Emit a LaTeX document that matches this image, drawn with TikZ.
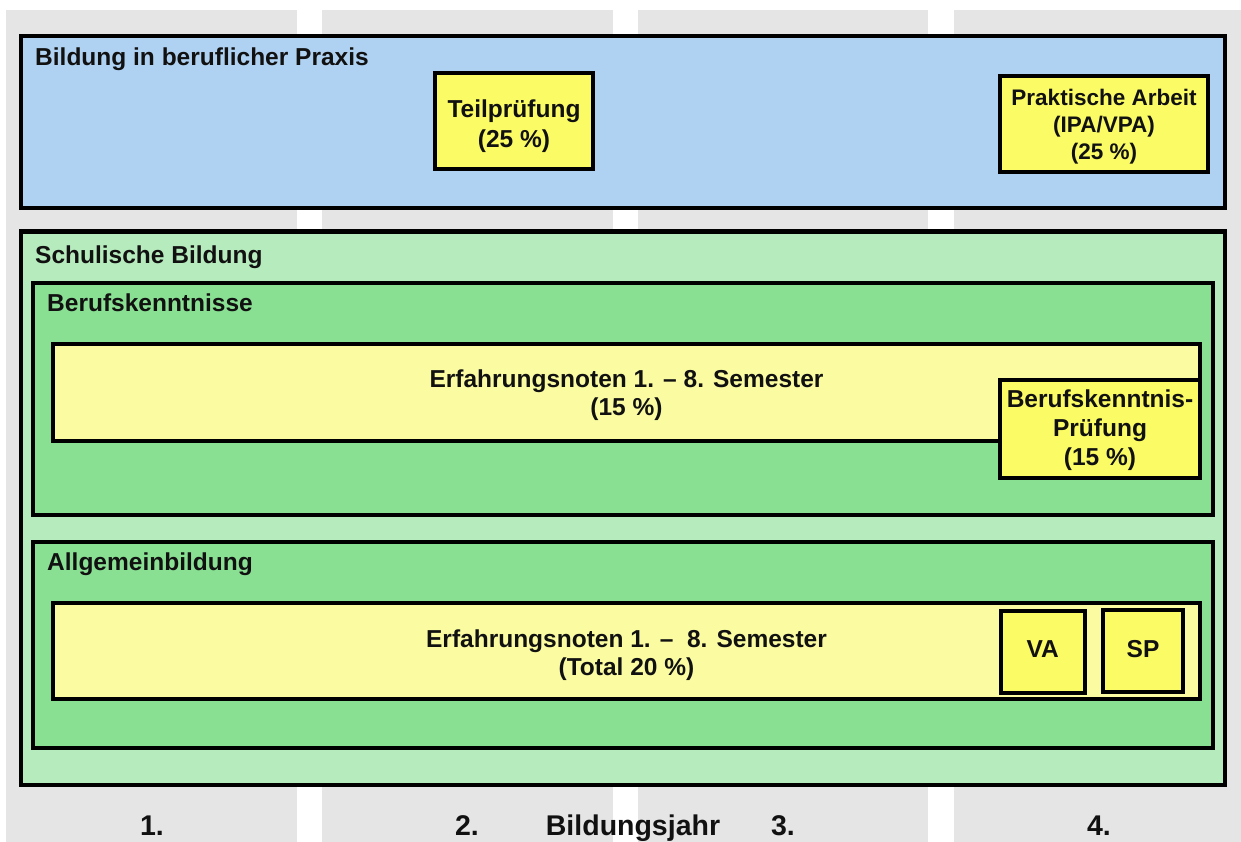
\documentclass[tikz,border=0pt]{standalone}
\usepackage{fontspec}
\setmainfont{Liberation Sans}
\definecolor{colgray}{RGB}{229,229,229}
\definecolor{cblue}{RGB}{176,210,242}
\definecolor{cgreenL}{RGB}{182,235,189}
\definecolor{cgreenM}{RGB}{137,224,147}
\definecolor{cpale}{RGB}{251,252,162}
\definecolor{cyel}{RGB}{251,251,102}
\definecolor{ctext}{RGB}{17,17,17}
% first baseline placed #1 above the node centre
\newcommand{\btxt}[2]{\smash{\raisebox{#1}{\begin{tabular}[t]{@{}c@{}}#2\end{tabular}}}}
\tikzset{
  bigbox/.style={draw=black, line width=4.5pt, inner sep=0pt, text=ctext},
  midbox/.style={draw=black, line width=4pt, inner sep=0pt, text=ctext},
  smallbox/.style={draw=black, line width=4pt, inner sep=0pt, text=ctext,
    font=\fontsize{24.5}{30}\selectfont\bfseries},
  lbl/.style={inner sep=0pt, anchor=base west, text=ctext, font=\fontsize{24.5}{30.5}\selectfont\bfseries},
  yearlbl/.style={inner sep=0pt, anchor=base, text=ctext, font=\fontsize{28.5}{34}\selectfont\bfseries},
}
\begin{document}
\begin{tikzpicture}[x=1pt,y=-1pt]
\useasboundingbox (0,0) rectangle (1241,842);
\fill[white] (0,0) rectangle (1241,842);
% year columns
\fill[colgray] (6,10) rectangle (297,842);
\fill[colgray] (322,10) rectangle (613,842);
\fill[colgray] (638,10) rectangle (928,842);
\fill[colgray] (954,10) rectangle (1241,842);

% Bildung in beruflicher Praxis
\node[bigbox, fill=cblue, minimum width=1204pt, minimum height=172pt] (praxis) at (623,122) {};
\node[lbl] (praxislbl) at (35,65.5) {Bildung in beruflicher Praxis};
\node[smallbox, fill=cyel, minimum width=158pt, minimum height=96pt] (teil) at (514,121)
  {\btxt{3.7pt}{Teilprüfung\\(25 \%)}};
\node[smallbox, fill=cyel, minimum width=208pt, minimum height=96pt,
  font=\fontsize{22.5}{27.2}\selectfont\bfseries] (prakt) at (1104,124)
  {\btxt{18.7pt}{Praktische Arbeit\\(IPA/VPA)\\(25 \%)}};

% Schulische Bildung
\node[bigbox, fill=cgreenL, minimum width=1204pt, minimum height=553.5pt] (schule) at (623,508.25) {};
\node[lbl] (schulelbl) at (35,263.3) {Schulische Bildung};

\node[midbox, fill=cgreenM, minimum width=1179.7pt, minimum height=231.7pt] (beruf) at (622.85,398.85) {};
\node[lbl] (beruflbl) at (47,311.7) {Berufskenntnisse};
\node[smallbox, fill=cpale, minimum width=1147pt, minimum height=97pt,
  font=\fontsize{24.5}{27.3}\selectfont\bfseries] (erf1) at (626.5,392.5)
  {\btxt{4.8pt}{Erfahrungsnoten 1. – 8. Semester\\(15 \%)}};
\node[smallbox, fill=cyel, minimum width=200pt, minimum height=98pt,
  font=\fontsize{24.5}{29}\selectfont\bfseries] (bkp) at (1100,429)
  {\btxt{21.7pt}{Berufskenntnis-\\Prüfung\\(15 \%)}};

\node[midbox, fill=cgreenM, minimum width=1179.7pt, minimum height=206pt] (allg) at (622.85,645) {};
\node[lbl] (allglbl) at (47,570) {Allgemeinbildung};
\node[smallbox, fill=cpale, minimum width=1147pt, minimum height=96pt,
  font=\fontsize{24.5}{27.3}\selectfont\bfseries] (erf2) at (626.5,651)
  {\btxt{3.3pt}{Erfahrungsnoten 1. –~~8. Semester\\(Total 20 \%)}};
\node[smallbox, fill=cyel, minimum width=84.5pt, minimum height=82pt] (va) at (1042.75,652)
  {\btxt{-5.3pt}{VA}};
\node[smallbox, fill=cyel, minimum width=80pt, minimum height=82pt] (sp) at (1143,651)
  {\btxt{-6.3pt}{SP}};

% years
\node[yearlbl] (y1) at (152,835) {1.};
\node[yearlbl] (y2) at (467,835) {2.};
\node[yearlbl] (bj) at (633,835) {Bildungsjahr};
\node[yearlbl] (y3) at (783,835) {3.};
\node[yearlbl] (y4) at (1099,835) {4.};
\end{tikzpicture}
\end{document}
